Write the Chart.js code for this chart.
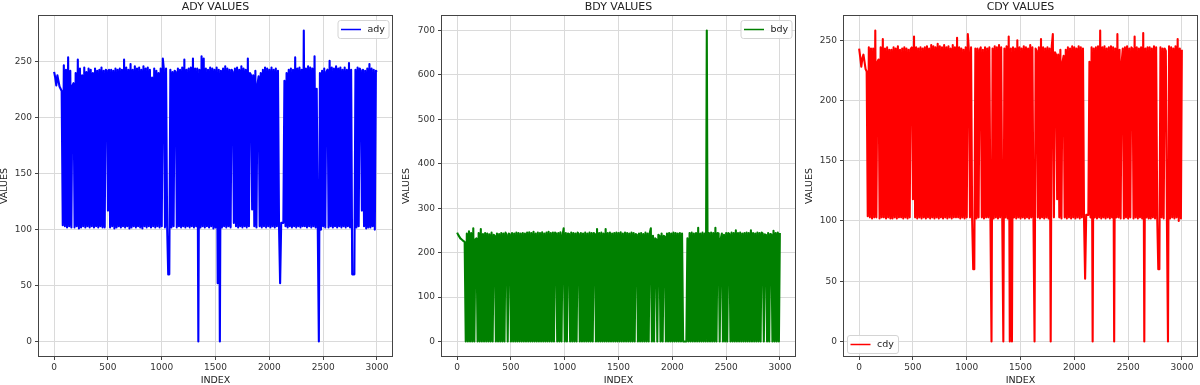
<!DOCTYPE html>
<html>
<head>
<meta charset="utf-8">
<script src="https://cdn.jsdelivr.net/npm/chart.js@4.4.1/dist/chart.umd.min.js"></script>
<style>
html, body { margin: 0; padding: 0; background: #fff; }
#wrap { position: relative; width: 1200px; height: 385px; overflow: hidden; }
.panel { position: absolute; top: 0; width: 400px; height: 385px; }
</style>
</head>
<body>
<div id="wrap">
  <div class="panel" style="left:0"><canvas id="adyChart"></canvas></div>
  <div class="panel" style="left:400px"><canvas id="bdyChart"></canvas></div>
  <div class="panel" style="left:800px"><canvas id="cdyChart"></canvas></div>
</div>
<script>
// values, one sample roughly every 10 rows (one row of 30 = 300 rows)
var ady = [
241,236,229,238,233,228,226,224,104,247,103,243,102,254,103,242,102,229,231,102,240,103,252,101,244,102,238,103,245,102,
241,103,244,102,243,103,240,102,244,103,242,102,243,103,245,102,242,102,243,242,117,243,102,243,103,242,101,244,102,243,
103,244,102,243,103,252,102,245,103,243,101,248,102,243,103,246,102,244,103,245,102,243,101,246,103,244,102,245,103,243,
102,236,103,244,102,242,103,240,102,244,103,253,243,102,244,103,60,60,243,102,241,103,242,241,102,244,103,243,102,245,
103,252,102,243,103,244,102,245,103,253,102,244,103,244,0,243,102,255,103,253,102,244,103,243,102,245,103,244,101,243,
102,245,52,243,0,242,102,244,103,246,102,244,103,243,102,243,241,106,244,103,245,102,243,103,246,102,244,103,243,102,
253,103,240,238,118,238,103,242,102,230,237,103,240,102,243,103,245,102,244,103,243,102,245,103,243,102,244,103,242,102,
52,106,106,106,233,103,240,102,243,103,244,102,243,103,254,102,244,103,245,102,243,103,278,103,244,102,246,103,245,102,
244,103,255,102,226,100,0,240,100,242,103,244,102,241,243,102,251,103,245,102,244,103,246,102,244,103,245,102,243,103,
245,102,243,103,249,102,243,60,60,60,243,102,245,103,244,242,117,243,103,242,101,244,102,248,102,244,103,243,100,242,
241]
var bdy = [
245,240,236,232,230,228,226,224,0,243,0,248,0,244,0,255,0,230,232,0,244,0,253,0,242,0,244,0,243,0,
241,0,245,0,240,238,0,243,0,242,0,244,0,243,0,245,240,0,243,241,0,244,0,243,0,245,0,244,0,243,
0,244,0,243,0,245,0,246,0,244,0,247,0,243,0,245,0,244,0,246,0,243,0,245,0,247,0,244,0,245,
0,245,243,0,244,0,246,0,240,255,0,244,0,243,242,0,245,0,244,0,243,0,245,242,0,244,0,243,0,245,
0,243,0,245,0,244,0,244,242,0,253,0,244,0,245,0,243,0,253,0,244,0,245,0,243,0,244,0,245,0,
244,0,246,0,243,0,245,0,244,0,243,0,245,0,244,0,242,240,0,243,0,244,0,242,0,245,0,243,0,244,
255,0,238,0,232,230,0,240,238,0,243,0,238,236,0,243,0,244,0,243,0,245,0,244,0,243,0,244,0,243,
0,0,0,0,232,0,244,0,245,0,243,0,244,0,256,0,243,0,245,0,243,0,700,0,244,0,245,0,244,0,
256,0,244,243,0,232,243,0,240,0,244,0,244,242,0,245,0,244,0,250,0,244,0,245,0,243,0,244,0,245,
0,244,0,250,0,244,0,243,0,245,0,244,0,245,243,0,241,240,0,244,0,242,241,0,249,0,244,0,245,0,
244]
var cdy = [
243,236,228,235,238,232,226,224,104,244,103,243,102,243,103,258,103,232,234,102,244,103,251,103,243,102,244,103,242,102,
242,102,244,103,243,102,245,103,242,103,243,102,244,103,243,102,242,103,243,244,118,253,103,244,102,243,103,244,102,243,
103,244,102,245,103,243,102,246,103,245,102,244,103,247,102,245,103,244,102,246,103,244,102,245,103,243,102,246,103,244,
103,252,103,244,102,243,103,242,102,244,103,255,241,103,244,102,60,60,243,102,243,103,242,244,103,242,102,244,103,243,
103,244,102,0,243,102,245,103,244,102,246,103,244,102,0,243,103,245,102,253,0,243,0,244,103,243,102,250,103,244,
102,243,103,245,102,244,103,243,102,246,103,244,102,0,243,241,103,244,102,251,103,244,102,243,103,244,102,243,0,245,
255,103,240,238,118,238,103,242,102,232,237,103,242,102,244,103,243,102,245,103,244,102,243,103,245,102,244,103,243,102,
52,105,105,105,232,103,244,0,243,103,244,102,245,103,258,102,244,103,245,102,243,103,244,102,245,103,244,0,243,103,
255,103,242,102,232,243,102,244,103,245,102,243,103,244,243,102,253,103,244,102,243,103,244,102,256,0,243,103,244,102,
244,102,243,103,245,102,244,103,60,60,244,103,243,102,243,241,103,0,245,102,244,103,243,102,245,103,251,100,243,102,
242]
var sampleStep = 10
var xTicks = [0, 500, 1000, 1500, 2000, 2500, 3000]
var xTickLabels = ['0', '500', '1000', '1500', '2000', '2500', '3000']
var smallYTicks = [0, 50, 100, 150, 200, 250]
var smallYLabels = ['0', '50', '100', '150', '200', '250']
var bigYTicks = [0, 100, 200, 300, 400, 500, 600, 700]
var bigYLabels = ['0', '100', '200', '300', '400', '500', '600', '700']

Chart.defaults.font.family = '"DejaVu Sans", sans-serif'
Chart.defaults.color = '#333'

// frame, titles and the small legend box, drawn like the matplotlib figure
var panelDecor = {
    id: 'panelDecor',
    afterDraw: function (chart, args, o) {
        var ctx = chart.ctx, a = chart.chartArea
        ctx.save()
        ctx.strokeStyle = '#444'
        ctx.lineWidth = 1
        ctx.strokeRect(Math.round(a.left) + 0.5, Math.round(a.top) + 0.5, Math.round(a.right - a.left) - 1, Math.round(a.bottom - a.top) - 1)
        ctx.fillStyle = '#222'
        ctx.textAlign = 'center'
        ctx.textBaseline = 'middle'
        ctx.font = '11px "DejaVu Sans"'
        ctx.fillText(o.title, (a.left + a.right) / 2, 7)
        ctx.font = '9.5px "DejaVu Sans"'
        ctx.fillText('INDEX', (a.left + a.right) / 2, 380.5)
        ctx.save()
        ctx.translate(o.yTitleX, (a.top + a.bottom) / 2)
        ctx.rotate(-Math.PI / 2)
        ctx.fillText('VALUES', 0, 0)
        ctx.restore()
        // legend
        var w = 51, h = 18, bx, by
        if (o.legendPos == 'br') { bx = a.left + 4; by = a.bottom - 4 - h }
        else { bx = a.right - 4.5 - w; by = a.top + 5 }
        ctx.beginPath()
        ctx.roundRect(bx + 0.5, by + 0.5, w, h, 2.5)
        ctx.fillStyle = 'rgba(255,255,255,0.85)'
        ctx.fill()
        ctx.strokeStyle = '#d4d4d4'
        ctx.stroke()
        ctx.beginPath()
        ctx.moveTo(bx + 3.5, by + h / 2 + 0.5)
        ctx.lineTo(bx + 23.5, by + h / 2 + 0.5)
        ctx.strokeStyle = o.color
        ctx.lineWidth = 1.5
        ctx.stroke()
        ctx.fillStyle = '#222'
        ctx.textAlign = 'left'
        ctx.font = '9.5px "DejaVu Sans"'
        ctx.fillText(o.label, bx + 30, by + h / 2 + 0.5)
        ctx.restore()
    }
}

function newPanel(id, label, values, color, yMin, yMax, yTicks, yLabels, axisWidth, rightPad, title, yTitleX, legendPos) {
    var points = values.map(function (v, i) { return { x: Math.min(i * sampleStep, 2999), y: v } })
    new Chart(document.getElementById(id), {
        type: 'line',
        data: {
            datasets: [{
                label: label,
                data: points,
                borderColor: color,
                borderWidth: 2.1,
                borderJoinStyle: 'round',
                pointRadius: 0,
                tension: 0,
                fill: false
            }]
        },
        options: {
            responsive: true,
            maintainAspectRatio: false,
            animation: false,
            events: [],
            layout: { padding: { top: 15, right: rightPad, bottom: 0, left: 0 } },
            plugins: {
                legend: { display: false },
                tooltip: { enabled: false },
                panelDecor: { title: title, label: label, color: color, yTitleX: yTitleX, legendPos: legendPos }
            },
            scales: {
                x: {
                    type: 'linear',
                    min: -150,
                    max: 3149,
                    afterBuildTicks: function (s) { s.ticks = xTicks.map(function (v) { return { value: v } }) },
                    afterFit: function (s) { s.height = 28; s.paddingLeft = 0; s.paddingRight = 0 },
                    ticks: {
                        autoSkip: false, maxRotation: 0, padding: 2,
                        font: { size: 9 }, color: '#333',
                        callback: function (v, i) { return xTickLabels[i] }
                    },
                    grid: { color: '#dadada', tickColor: '#444', tickLength: 3 },
                    border: { display: false }
                },
                y: {
                    type: 'linear',
                    min: yMin,
                    max: yMax,
                    afterBuildTicks: function (s) { s.ticks = yTicks.map(function (v) { return { value: v } }) },
                    afterFit: function (s) { s.width = axisWidth; s.paddingTop = 0; s.paddingBottom = 0 },
                    ticks: {
                        autoSkip: false, padding: 3,
                        font: { size: 9 }, color: '#333',
                        callback: function (v, i) { return yLabels[i] }
                    },
                    grid: { color: '#dadada', tickColor: '#444', tickLength: 3 },
                    border: { display: false }
                }
            }
        },
        plugins: [panelDecor]
    })
}

newPanel('adyChart', 'ady', ady, '#0000ff', -13.9, 291.9, smallYTicks, smallYLabels, 38, 7, 'ADY VALUES', 5, 'tr')
newPanel('bdyChart', 'bdy', bdy, '#008000', -35, 735, bigYTicks, bigYLabels, 41, 4, 'BDY VALUES', 7, 'tr')
newPanel('cdyChart', 'cdy', cdy, '#ff0000', -12.9, 270.9, smallYTicks, smallYLabels, 43, 2, 'CDY VALUES', 10, 'br')
</script>
</body>
</html>
